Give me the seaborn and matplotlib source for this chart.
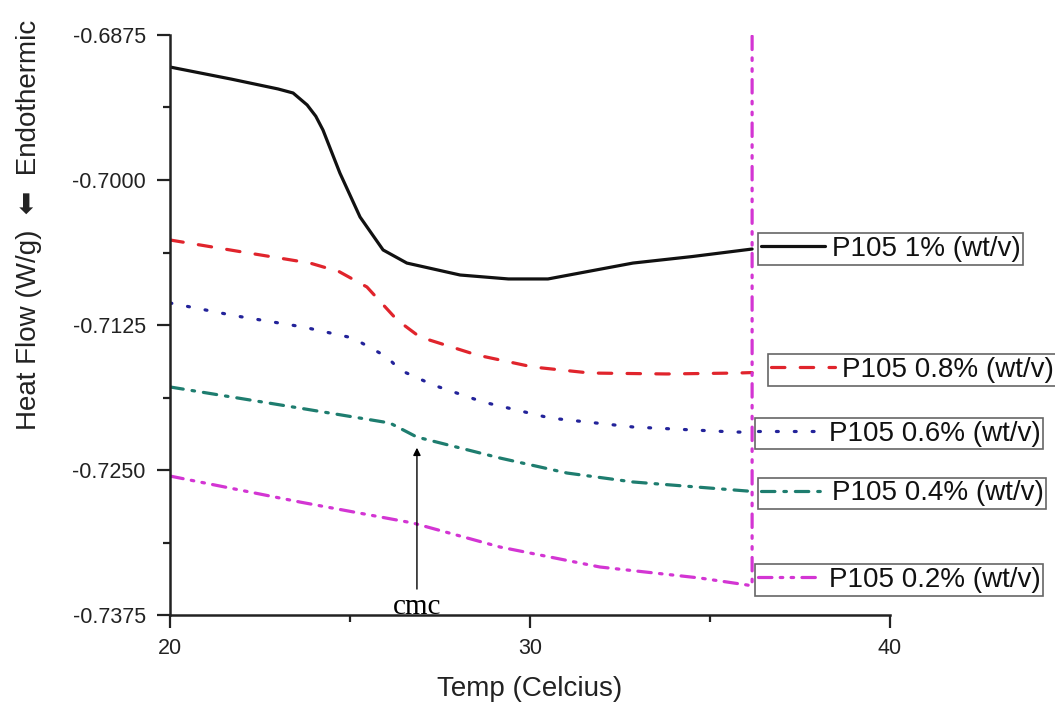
import matplotlib
matplotlib.use("Agg")
import matplotlib.pyplot as plt
import seaborn as sns
import pandas as pd

# Temperature (Celcius) and heat flow (W/g) for each P105 concentration
temp_1 = [20.0, 21.7, 23.0, 23.42, 23.81, 24.05, 24.25, 24.72, 25.28, 25.92, 26.58, 28.06, 29.4, 30.5, 32.86,
          34.5, 36.17]
flow_1 = [-0.69026, -0.69130, -0.69215, -0.69250, -0.69353, -0.69450, -0.69569, -0.69940, -0.70319, -0.70603,
          -0.70716, -0.70819, -0.70853, -0.70853, -0.70716, -0.70660, -0.70595]

temp_08 = [20.0, 22.0, 23.89, 24.7, 25.47, 26.31, 26.94, 28.53, 30.08, 31.67, 33.8, 35.75, 36.17]
flow_08 = [-0.70517, -0.70620, -0.70716, -0.70790, -0.70922, -0.71207, -0.71353, -0.71509, -0.71612, -0.71664,
           -0.71672, -0.71664, -0.71660]

temp_06 = [20.0, 21.8, 23.7, 25.08, 26.03, 26.39, 27.31, 28.7, 30.56, 32.86, 35.64, 36.17]
flow_06 = [-0.71060, -0.71170, -0.71267, -0.71362, -0.71526, -0.71638, -0.71767, -0.71914, -0.72052, -0.72129,
           -0.72172, -0.72175]

temp_04 = [20.0, 23.6, 26.11, 26.86, 29.17, 31.03, 32.86, 36.03, 36.17]
flow_04 = [-0.71784, -0.71966, -0.72095, -0.72216, -0.72397, -0.72526, -0.72603, -0.72681, -0.72685]

temp_02 = [20.0, 23.61, 26.75, 29.17, 31.94, 34.72, 36.03, 36.17, 36.17]
flow_02 = [-0.72552, -0.72776, -0.72957, -0.73164, -0.73336, -0.73431, -0.73491, -0.73500, -0.68740]

labels = ["P105 1% (wt/v)", "P105 0.8% (wt/v)", "P105 0.6% (wt/v)", "P105 0.4% (wt/v)", "P105 0.2% (wt/v)"]
colors = ["#111111", "#e0242c", "#23239a", "#1e7d6f", "#d335d3"]
dashes = [None, (4.2, 4.8), (0.6, 5.0), (4.2, 2.8, 0.8, 2.8), (4.2, 2.6, 0.8, 2.6, 0.8, 2.6)]

# cmc marker on the 0.4% curve
cmc_temp = 26.86
cmc_flow = -0.72284
cmc_text_flow = -0.73570

x_ticks = [20, 30, 40]
y_ticks = [-0.7375, -0.7250, -0.7125, -0.7000, -0.6875]
y_ticklabels = ["-0.7375", "-0.7250", "-0.7125", "-0.7000", "-0.6875"]

sns.set_style("ticks")
plt.rcParams["font.family"] = ["Liberation Sans", "DejaVu Sans"]

fig = plt.figure(figsize=(10.55, 7.07), dpi=100)
ax = fig.add_axes([0.1611, 0.1301, 0.6825, 0.8204])

series = [(temp_1, flow_1), (temp_08, flow_08), (temp_06, flow_06), (temp_04, flow_04), (temp_02, flow_02)]
lines = []
for (t, f), lab, col, ds in zip(series, labels, colors, dashes):
    df = pd.DataFrame({"Temp": t, "Flow": f})
    sns.lineplot(data=df, x="Temp", y="Flow", ax=ax, color=col, linewidth=2.3,
                 sort=False, estimator=None)
    ln = ax.get_lines()[-1]
    if ds is not None:
        ln.set_dashes(ds)
        ln.set_dash_capstyle("round")
    ln.set_solid_joinstyle("round")
    lines.append(ln)

ax.set_xlim(20, 40)
ax.set_ylim(-0.7375, -0.6875)
ax.set_xticks(x_ticks)
ax.set_yticks(y_ticks)
ax.set_yticklabels(y_ticklabels)
ax.set_xticks([25, 35], minor=True)
ax.set_yticks([-0.73125, -0.71875, -0.70625, -0.69375], minor=True)
ax.tick_params(axis="both", which="major", length=9.5, width=1.6, labelsize=15.5, direction="out",
               colors="#222222", labelcolor="#222222")
ax.tick_params(axis="both", which="minor", length=5, width=1.6, direction="out", colors="#222222")
ax.tick_params(axis="y", which="major", pad=8)
ax.tick_params(axis="x", which="major", pad=7)
for s in ["left", "bottom"]:
    ax.spines[s].set_linewidth(1.8)
    ax.spines[s].set_color("#222222")
sns.despine(ax=ax)

ax.set_xlabel("Temp (Celcius)", fontsize=20, color="#222222")
ax.xaxis.set_label_coords(0.5, -0.105)
ax.set_ylabel("Heat Flow (W/g)  \u2b05  Endothermic", fontsize=20, color="#222222")
ax.yaxis.set_label_coords(-0.178, 0.672)

ax.annotate("", xy=(cmc_temp, cmc_flow), xytext=(cmc_temp, cmc_text_flow + 0.0002),
            arrowprops=dict(arrowstyle="-|>", color="black", lw=1.0, mutation_scale=11))
ax.text(cmc_temp, cmc_text_flow, "cmc", ha="center", va="top", fontsize=21,
        family=["Liberation Serif", "DejaVu Serif"], color="black")

# one framed legend entry beside the end of each curve
legend_anchor = [(0.7185, 0.6478), (0.728, 0.4767), (0.7156, 0.3868), (0.7185, 0.302), (0.7156, 0.1796)]
for ln, lab, anc in zip(lines, labels, legend_anchor):
    leg = fig.legend([ln], [lab], loc="center left", bbox_to_anchor=anc, fontsize=20,
                     frameon=True, fancybox=False, framealpha=1, edgecolor="#666666",
                     borderpad=0.1, handlelength=2.3, handletextpad=0.25, borderaxespad=0)
    leg.get_frame().set_linewidth(1.2)
    for t in leg.get_texts():
        t.set_color("#111111")
    leg.set_zorder(5)

fig.savefig("out.png", dpi=100, facecolor="white")
